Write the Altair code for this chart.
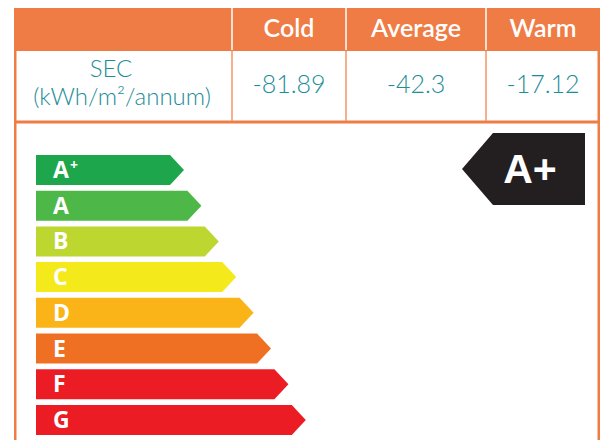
import altair as alt
import pandas as pd

# ---- data ----
columns = ["Cold", "Average", "Warm"]
sec_values = [-81.89, -42.3, -17.12]
row_label = ["SEC", "(kWh/m²/annum)"]
grades = ["A+", "A", "B", "C", "D", "E", "F", "G"]
grade_colors = ["#1DA64B", "#4DB748", "#BED630", "#F4EA1B",
                "#FBB417", "#F07023", "#EC1C24", "#EC1C24"]
rating = "A+"

ORANGE = "#EF7C45"
TEAL = "#1C8D99"

# ---- layout (reference pixel space) ----
col_edges = [232, 346, 486, 605]
row_top0, row_pitch, row_h = 155, 35.7, 30
tip0, tip_step, tip_len, bar_x0 = 184, 17.4, 14, 36

xs = alt.Scale(domain=[8, 600], nice=False, zero=False)
ys = alt.Scale(domain=[8, 440], nice=False, zero=False, reverse=True)


def X(f):
    return alt.X(f, type="quantitative", scale=xs, axis=None)


def Y(f):
    return alt.Y(f, type="quantitative", scale=ys, axis=None)


# frame rectangles
frame = pd.DataFrame([
    {"x": 14, "x2": 600, "y": 4, "y2": 51},        # header band
    {"x": 14, "x2": 16.5, "y": 4, "y2": 448},      # left border
    {"x": 597.5, "x2": 600, "y": 4, "y2": 448},    # right border
    {"x": 14, "x2": 600, "y": 120.5, "y2": 123.5},  # row bottom
])
frame_layer = alt.Chart(frame).mark_rect(color=ORANGE, clip=True).encode(
    x=X("x"), x2="x2", y=Y("y"), y2="y2")

div = pd.DataFrame({"x": col_edges[:3]})
hdr_div = alt.Chart(div).mark_rule(color="white", strokeWidth=1.5).transform_calculate(
    a="6", b="50").encode(x=X("x"), y=Y("a:Q"), y2="b:Q")
row_div = alt.Chart(div).mark_rule(color="#F39565", strokeWidth=1.5).transform_calculate(
    a="51", b="121").encode(x=X("x"), y=Y("a:Q"), y2="b:Q")

# header and values
cols = pd.DataFrame({
    "name": columns,
    "value": [str(v) for v in sec_values],
    "cx": [289, 416, 543],
})
hdr_text = alt.Chart(cols).mark_text(
    font="Lato", fontSize=25, fontWeight=600, color="white", baseline="middle"
).transform_calculate(cy="29").encode(x=X("cx"), y=Y("cy:Q"), text="name:N")
val_text = alt.Chart(cols).mark_text(
    font="Lato", fontSize=25, fontWeight=300, color=TEAL, baseline="middle"
).transform_calculate(cy="85").encode(x=X("cx"), y=Y("cy:Q"), text="value:N")

lab = pd.DataFrame({"t": row_label, "cx": [111, 122], "cy": [70, 98]})
lab_text = alt.Chart(lab).mark_text(
    font="Lato", fontSize=24, fontWeight=300, color=TEAL, baseline="middle"
).encode(x=X("cx"), y=Y("cy"), text="t:N")

# energy arrows as areas
pts = []
labels = []
for i, g in enumerate(grades):
    top = row_top0 + i * row_pitch
    bot = top + row_h
    tip = tip0 + i * tip_step
    mid = (top + bot) / 2
    pts += [
        {"g": g, "x": bar_x0, "yt": top, "yb": bot},
        {"g": g, "x": tip - tip_len, "yt": top, "yb": bot},
        {"g": g, "x": tip, "yt": mid, "yb": mid},
    ]
    labels.append({"g": g, "main": g[0], "sup": g[1:], "x": 53, "y": mid + 1})
arrows = alt.Chart(pd.DataFrame(pts)).mark_area(interpolate="linear").encode(
    x=X("x"), y=Y("yt"), y2="yb",
    color=alt.Color("g:N", scale=alt.Scale(domain=grades, range=grade_colors), legend=None),
    detail="g:N")
lab_df = pd.DataFrame(labels)
g_text = alt.Chart(lab_df).mark_text(
    font="Open Sans", fontSize=23, fontWeight="bold", color="white",
    align="left", baseline="middle"
).encode(x=X("x"), y=Y("y"), text="main:N")
g_sup = alt.Chart(lab_df).mark_text(
    font="Open Sans", fontSize=14, fontWeight="bold", color="white",
    align="left", baseline="middle", dx=17, dy=-5
).encode(x=X("x"), y=Y("y"), text="sup:N")

# rating tag
tag = pd.DataFrame([
    {"x": 462, "yt": 169, "yb": 169},
    {"x": 493, "yt": 133, "yb": 205},
    {"x": 585, "yt": 133, "yb": 205},
])
tag_layer = alt.Chart(tag).mark_area(color="#231F20", interpolate="linear").encode(
    x=X("x"), y=Y("yt"), y2="yb")
tag_text = alt.Chart(pd.DataFrame({"t": [rating], "x": [530], "y": [171]})).mark_text(
    font="Liberation Sans", fontSize=41, fontWeight="bold", color="white", baseline="middle"
).encode(x=X("x"), y=Y("y"), text="t:N")

chart = alt.layer(
    frame_layer, hdr_div, row_div, hdr_text, val_text, lab_text,
    arrows, g_text, g_sup, tag_layer, tag_text
).properties(width=592, height=432, padding=0, autosize="none", background="white"
).configure_view(stroke=None)

chart.save("out.html", embed_options={"renderer": "svg", "actions": False})
